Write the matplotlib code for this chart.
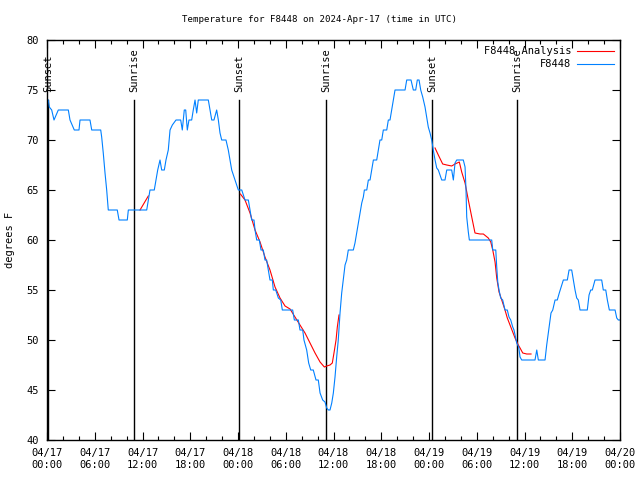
import matplotlib
matplotlib.use("Agg")
import matplotlib.pyplot as plt

# hours since 2024-04-17 00:00 UTC, temperature in F
obs_hours = [0.16, 0.29, 0.59, 0.88, 1.42, 2.68, 2.89, 3.43, 4.02, 4.15, 5.40, 5.62, 6.75, 6.87,
             7.07, 7.29, 7.50, 7.70, 8.83, 9.05, 10.09, 10.22, 12.53, 12.94, 13.48, 13.70, 13.91,
             14.20, 14.41, 14.74, 14.95, 15.24, 15.46, 15.75, 16.21, 16.80, 17.00, 17.25, 17.43,
             17.63, 17.84, 18.18, 18.38, 18.60, 18.81, 19.01, 20.27, 20.48, 20.70, 20.98, 21.32,
             21.53, 21.74, 21.95, 22.49, 22.78, 23.00, 23.21, 23.62, 24.04, 24.47, 24.88, 25.30,
             25.51, 25.72, 26.01, 26.14, 26.35, 26.68, 26.89, 27.18, 27.39, 27.60, 27.81, 28.02,
             28.31, 28.44, 28.74, 29.07, 29.37, 29.57, 30.87, 31.08, 31.58, 31.79, 32.13, 32.29,
             32.63, 32.88, 33.14, 33.46, 33.80, 34.09, 34.31, 34.64, 34.93, 35.15, 35.35, 35.56,
             35.78, 35.98, 36.19, 36.40, 36.60, 36.82, 37.03, 37.23, 37.45, 37.66, 37.86, 38.49,
             38.70, 38.91, 39.12, 39.33, 39.55, 39.75, 39.88, 40.18, 40.38, 40.59, 40.80, 41.01,
             41.43, 41.63, 41.84, 42.06, 42.26, 42.69, 42.89, 43.10, 43.31, 43.52, 43.73, 44.99,
             45.20, 45.74, 46.03, 46.33, 46.53, 46.75, 46.96, 47.21, 47.50, 47.71, 47.91, 48.13,
             48.34, 48.54, 48.76, 48.97, 49.17, 49.60, 50.01, 50.23, 50.85, 51.06, 51.27, 51.48,
             52.31, 52.53, 52.65, 52.74, 52.94, 53.07, 55.88, 56.01, 56.39, 56.51, 56.64, 56.80,
             57.01, 57.26, 57.55, 57.84, 58.05, 58.27, 58.52, 58.68, 59.02, 59.27, 59.44, 59.65,
             61.32, 61.54, 61.74, 62.58, 62.79, 62.99, 63.21, 63.33, 63.55, 63.84, 64.12, 64.37,
             64.68, 64.88, 65.38, 65.60, 65.93, 66.14, 66.35, 66.56, 66.76, 66.98, 67.89, 68.11,
             68.32, 68.52, 68.86, 69.70, 69.90, 70.21, 70.41, 70.66, 71.38, 71.59, 71.79, 72.00]
obs_temp = [74, 73.3, 73, 72, 73, 73, 72, 71, 71, 72, 72, 71, 71, 70.3,
            68.7, 66.7, 65, 63, 63, 62, 62, 63, 63, 65, 65, 66, 67,
            68, 67, 67, 68, 69, 71, 71.5, 72, 72, 71, 73, 73,
            71, 72, 72, 73, 74, 72.7, 74, 74, 73, 72, 72, 73,
            72, 70.7, 70, 70, 69, 68, 67, 66, 65, 65, 64, 64,
            63, 62, 62, 61, 60, 60, 59, 59, 58, 58, 57, 56,
            56, 55, 55, 54.2, 54, 53, 53, 52, 52, 51, 51, 50,
            49, 47.7, 47, 47, 46, 46, 44.7, 44, 43.8, 43.2, 43, 43,
            43.7, 44.7, 46.3, 48.3, 50, 52.7, 54.7, 56, 57.5, 58, 59, 59,
            59.7, 60.7, 61.7, 62.7, 63.7, 64.3, 65, 65, 66, 66, 67, 68,
            68, 69, 70, 70, 71, 71, 72, 72, 73, 74, 75, 75,
            76, 76, 75, 75, 76, 76, 75, 74.3, 73.3, 72.3, 71.3, 70.7,
            70, 69, 68, 67.2, 67, 66, 66, 67, 67, 66, 67.7, 68,
            68, 67.3, 65, 62.3, 60.8, 60, 60, 59, 59, 57.3, 55.8, 55,
            54.2, 54, 53, 53, 52.3, 52, 51.3, 51, 49.7, 49.3, 48.3, 48,
            48, 49, 48, 48, 49.5, 50.7, 52, 52.7, 53, 54, 54, 54.7,
            55.5, 56, 56, 57, 57, 56, 55, 54.2, 54, 53, 53, 54.5,
            55, 55, 56, 56, 55, 55, 54, 53, 53, 52.2, 52, 52]

ana1_hours = [11.69, 12.73]
ana1_temp = [63, 64.4]
ana2_hours = [24.30, 24.88, 25.51, 26.14, 26.77, 27.39, 28.02, 28.65, 29.28, 29.91, 30.54, 31.16,
              31.79, 32.42, 33.05, 33.68, 34.31, 34.85, 35.15, 35.56, 35.85, 36.06, 36.32, 36.48,
              36.69]
ana2_temp = [64.6, 64, 62.7, 61, 59.8, 58.3, 57, 55.3, 54.2, 53.4, 53.1, 52.3,
             51.5, 50.7, 49.7, 48.7, 47.8, 47.3, 47.4, 47.5, 47.7, 48.7, 50, 51.3,
             52.5]
ana3_hours = [48.76, 49.17, 49.72, 50.23, 50.85, 51.27, 51.81, 52.11, 52.53, 52.94, 53.37, 53.78,
              54.41, 54.83, 55.45, 55.76, 56.01, 56.30, 56.51, 56.80, 57.14, 57.55, 57.84, 58.18,
              58.52, 58.81, 59.22, 59.44, 59.78, 60.28, 60.82]
ana3_temp = [69.2, 68.5, 67.6, 67.5, 67.4, 67.6, 67.8, 66.8, 65.7, 64, 62.3, 60.7,
             60.6, 60.6, 60.2, 59.8, 59, 57.8, 56.2, 54.8, 54, 53, 52.2, 51.5,
             50.8, 50.2, 49.5, 49.2, 48.7, 48.6, 48.6]

events = ["Sunset", "Sunrise", "Sunset", "Sunrise", "Sunset", "Sunrise"]
event_hours = [0.13, 10.93, 24.13, 35.06, 48.38, 59.06]

xtick_hours = [0, 6, 12, 18, 24, 30, 36, 42, 48, 54, 60, 66, 72]
xtick_labels = ["04/17\n00:00", "04/17\n06:00", "04/17\n12:00", "04/17\n18:00",
                "04/18\n00:00", "04/18\n06:00", "04/18\n12:00", "04/18\n18:00",
                "04/19\n00:00", "04/19\n06:00", "04/19\n12:00", "04/19\n18:00",
                "04/20\n00:00"]

plt.rcParams['font.family'] = ['DejaVu Sans Mono']
plt.rcParams['font.size'] = 7.5

fig = plt.figure(figsize=(6.4, 4.8), dpi=100)
ax = fig.add_axes([47 / 640, 40 / 480, 573 / 640, 400 / 480])

for name, h in zip(events, event_hours):
    ax.plot([h, h], [40, 74], color='black', lw=1.0)
    ax.text(h, 74.8, name, rotation=90, ha='center', va='bottom', fontsize=7.5)

ax.plot(ana1_hours, ana1_temp, color='#ff0000', lw=0.8, label='F8448 Analysis')
ax.plot(ana2_hours, ana2_temp, color='#ff0000', lw=0.8)
ax.plot(ana3_hours, ana3_temp, color='#ff0000', lw=0.8)
ax.plot(obs_hours, obs_temp, color='#0080ff', lw=0.8, label='F8448')

ax.set_xlim(0, 72)
ax.set_ylim(40, 80)
ax.set_xticks(xtick_hours)
ax.set_xticklabels(xtick_labels)
ax.set_xticks(range(0, 73, 2), minor=True)
ax.set_yticks(range(40, 81, 5))
ax.tick_params(direction='in', top=True, right=True, length=6, width=0.8, pad=6)
ax.tick_params(which='minor', direction='in', top=True, length=3, width=0.8)
for s in ax.spines.values():
    s.set_linewidth(1.0)

ax.set_ylabel("degrees F", labelpad=8)
fig.text(0.5, 1 - 19 / 480, "Temperature for F8448 on 2024-Apr-17 (time in UTC)",
         ha='center', va='center', fontsize=6.6)

leg = ax.legend(loc='upper right', frameon=False, markerfirst=False, handlelength=3.5,
                borderaxespad=0.2, labelspacing=0.3, handletextpad=0.6)

fig.savefig("out.png", dpi=100)
